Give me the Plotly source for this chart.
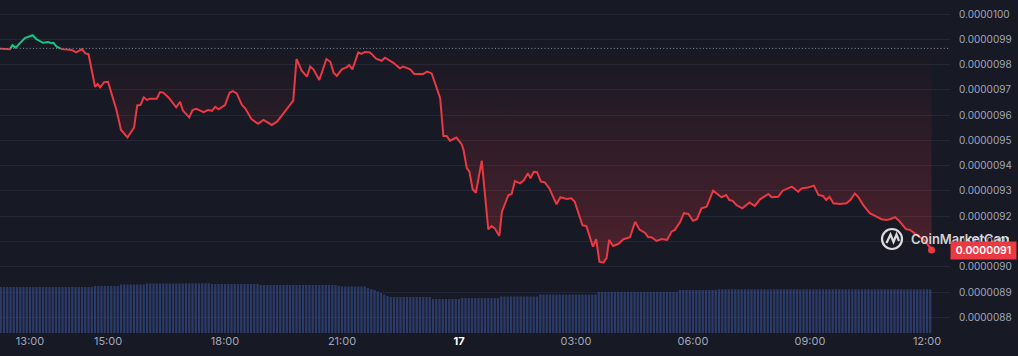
import numpy as np
import pandas as pd
import plotly.graph_objects as go

# ---------------- data ----------------
DAY0 = pd.Timestamp("2024-01-16 00:00")
# price sample times, minutes after 16th 00:00 (values > 1440 are on the 17th)
price_time_min = [734,749,753,758,765,772,784,790,800,808,
                  813,816,821,829,844,851,860,865,870,880,
                  884,888,894,900,906,913,920,930,940,945,
                  950,955,960,965,975,980,985,993,1005,1011,
                  1015,1025,1030,1036,1047,1054,1060,1065,1070,1080,
                  1087,1092,1098,1106,1111,1121,1131,1139,1152,1160,
                  1172,1185,1190,1198,1206,1211,1216,1225,1236,1242,
                  1247,1252,1260,1267,1271,1276,1285,1290,1295,1303,
                  1313,1321,1326,1339,1349,1354,1365,1371,1385,1391,
                  1398,1406,1411,1416,1421,1426,1436,1444,1447,1452,
                  1456,1461,1466,1475,1485,1490,1495,1502,1506,1516,
                  1521,1526,1534,1540,1546,1550,1555,1560,1566,1572,
                  1579,1590,1596,1606,1613,1618,1630,1636,1646,1651,
                  1656,1662,1667,1671,1677,1685,1693,1703,1711,1718,
                  1726,1731,1736,1744,1752,1760,1767,1772,1780,1786,
                  1793,1800,1806,1813,1821,1831,1837,1844,1851,1856,
                  1861,1867,1876,1887,1895,1903,1916,1921,1931,1938,
                  1952,1962,1967,1977,1986,1993,2000,2005,2010,2016,
                  2026,2036,2042,2049,2054,2062,2072,2083,2090,2098,
                  2103,2111,2117,2128,2134,2142,2149,2157,2167]
# price in units of 1e-7
price_e7 = [98.63,98.61,98.77,98.67,98.88,99.05,99.16,99.00,98.86,98.89,
            98.84,98.86,98.71,98.61,98.58,98.48,98.61,98.44,98.41,97.12,
            97.23,97.10,97.30,97.32,96.80,96.20,95.41,95.12,95.50,96.39,
            96.40,96.70,96.60,96.65,96.65,96.91,96.89,96.70,96.31,96.53,
            96.19,95.91,96.20,96.25,96.12,96.20,96.17,96.33,96.23,96.40,
            96.89,96.95,96.86,96.40,96.27,95.83,95.66,95.81,95.61,95.74,
            96.14,96.57,98.22,97.76,97.52,97.92,97.81,97.39,98.22,98.11,
            97.68,97.55,97.82,97.89,97.98,97.81,98.48,98.42,98.50,98.48,
            98.22,98.15,98.27,98.07,97.85,97.92,97.81,97.63,97.63,97.72,
            97.65,96.99,96.67,95.17,95.17,94.99,95.11,94.85,94.62,93.90,
            93.76,93.07,92.93,94.20,91.48,91.61,91.52,91.22,92.18,92.84,
            92.88,93.39,93.30,93.43,93.70,93.50,93.76,93.74,93.37,93.34,
            93.10,92.47,92.75,92.68,92.71,92.57,91.64,91.61,90.79,91.09,
            90.20,90.16,90.34,91.06,90.82,90.90,91.09,91.17,91.78,91.46,
            91.35,91.17,91.17,91.02,91.10,91.06,91.39,91.46,91.76,92.12,
            92.09,91.82,91.88,92.31,92.38,93.01,92.88,92.75,92.84,92.64,
            92.61,92.44,92.31,92.54,92.41,92.67,92.88,92.75,92.77,93.01,
            93.17,92.97,93.10,93.14,93.21,92.84,92.80,92.64,92.77,92.51,
            92.48,92.51,92.64,92.90,92.77,92.44,92.12,91.96,91.88,91.85,
            91.88,91.96,91.82,91.48,91.46,91.30,91.19,91.03,90.66]
baseline_e7 = 98.64   # opening price (dotted line)

# 5-minute volume bars, 12:15 (16th) .. 12:05 (17th); arbitrary units
volume = [
    46,46,46,46,46,46,46,46,46,                              # 12:15-12:55
    46,46,46,46,46,46,46,46,46,46,46,46,                     # 13h
    46,46,46,46,46,46,46,46,47,47,47,47,                     # 14h
    47,47,47,47,48.5,48.5,48.5,48.5,48.5,48.5,48.5,48.5,     # 15h
    49.5,49.5,49.5,49.5,49.5,49.5,49.5,49.5,49.5,49.5,49.5,49.5,  # 16h
    49.7,49.7,49.7,49.7,49.7,49.7,49.7,49.7,49,49,49,49,     # 17h
    49,49,49,49,49,49,49,49,49,49,49,48,                     # 18h
    48,48,48,48,48,48,48,48,48,48,48,48,                     # 19h
    48,48,48,48,48,48,48,48,48,48,48,47,                     # 20h
    46.5,46.5,46.5,46.5,46.5,46.5,46.5,46.5,45,44,43,41.5,   # 21h
    40,38.5,37,36,36,36,36,36,36,36,36,36,                   # 22h
    36,36,36,36,34,34,34,34,34,34,34,34,                     # 23h
    34,35,35,35,35,35,35,35,35,35,35,35,                     # 00h
    35,36.5,36.5,36.5,36.5,36.5,36.5,36.5,36.5,36.5,36.5,36.5,  # 01h
    36.5,38.5,38.5,38.5,38.5,38.5,38.5,38.5,38.5,38.5,38.5,38.5,  # 02h
    38.5,38.5,38.5,38.5,38.5,38.5,38.5,41,41,41,41,41,       # 03h
    41,41,41,41,41,41,41,41,41,41,41,41,                     # 04h
    41,41,41,41,41,41,41,41,43,43,43,43,                     # 05h
    43,43,43,43,43,43,43,43,43.7,43.7,43.7,43.7,             # 06h
    43.7,43.7,43.7,43.7,43.7,43.7,43.7,43.7,43.7,43.7,43.7,43.7,  # 07h
    43.7,43.7,43.7,43.7,43.7,43.7,43.7,43.7,43.7,43.7,43.7,43.7,  # 08h
    43.7,43.7,43.7,43.7,43.7,43.7,43.7,43.7,43.7,43.7,43.7,43.7,  # 09h
    43.7,43.7,43.7,43.7,43.7,43.7,43.7,43.7,43.7,43.7,43.7,43.7,  # 10h
    43.7,43.7,43.7,43.7,43.7,43.7,43.7,43.7,43.7,43.7,43.7,43.7,  # 11h
    43.7,43.7,                                               # 12:00-12:05
]

x_tick_times = ["2024-01-16 13:00", "2024-01-16 15:00", "2024-01-16 18:00",
                "2024-01-16 21:00", "2024-01-17 00:00", "2024-01-17 03:00",
                "2024-01-17 06:00", "2024-01-17 09:00", "2024-01-17 12:00"]
x_tick_text = ["13:00", "15:00", "18:00", "21:00",
               '<span style="color:#ffffff"><b>17</b></span>',
               "03:00", "06:00", "09:00", "12:00"]

assert len(price_time_min) == len(price_e7), (len(price_time_min), len(price_e7))

# ---------------- colours ----------------
BG = "#171924"
GRID = "#232634"
RED = "#ea3943"
GREEN = "#16c784"
LABEL = "#a1a7bb"

# ---------------- prepare ----------------
SCALE = 1e-7
base = baseline_e7 * SCALE
tm = list(map(float, price_time_min))
pv = [p * SCALE for p in price_e7]

# insert baseline crossings so the line can switch colour exactly there
aug_t, aug_v = [tm[0]], [pv[0]]
for i in range(1, len(tm)):
    a, b = pv[i - 1] - base, pv[i] - base
    if a * b < 0:
        f = a / (a - b)
        aug_t.append(tm[i - 1] + f * (tm[i] - tm[i - 1]))
        aug_v.append(base)
    aug_t.append(tm[i])
    aug_v.append(pv[i])

to_dt = lambda mins: [DAY0 + pd.Timedelta(minutes=m) for m in mins]
aug_x = to_dt(aug_t)
green_y = [v if v >= base else None for v in aug_v]
red_y = [v if v <= base else None for v in aug_v]
fill_y = [min(v, base) for v in aug_v]

vol_x = pd.date_range("2024-01-16 12:15", periods=len(volume), freq="5min")

fig = go.Figure()

fig.add_trace(go.Bar(x=vol_x, y=volume, yaxis="y2",
                     marker=dict(color="rgba(61,85,158,0.55)", line_width=0),
                     hoverinfo="skip", showlegend=False))

fig.add_trace(go.Scatter(x=aug_x, y=[base] * len(aug_x), mode="lines",
                         line=dict(width=0), hoverinfo="skip", showlegend=False))
fig.add_trace(go.Scatter(x=aug_x, y=fill_y, mode="lines", line=dict(width=0),
                         fill="tonexty",
                         fillgradient=dict(type="vertical",
                                           colorscale=[[0, "rgba(234,57,67,0.26)"],
                                                       [1, "rgba(234,57,67,0.0)"]],
                                           start=90.2 * SCALE, stop=base),
                         hoverinfo="skip", showlegend=False))

fig.add_trace(go.Scatter(x=aug_x, y=red_y, mode="lines",
                         line=dict(color=RED, width=2), connectgaps=False,
                         hoverinfo="skip", showlegend=False))
fig.add_trace(go.Scatter(x=aug_x, y=green_y, mode="lines",
                         line=dict(color=GREEN, width=2), connectgaps=False,
                         hoverinfo="skip", showlegend=False))
fig.add_trace(go.Scatter(x=[aug_x[-1]], y=[aug_v[-1]], mode="markers",
                         marker=dict(color=RED, size=7), hoverinfo="skip",
                         showlegend=False))

# dotted baseline
fig.add_shape(type="line", xref="paper", x0=0, x1=1, yref="y", y0=base, y1=base,
              line=dict(color="#8e93a0", width=1, dash="1px,2.3px"), layer="above")

# watermark (drawn before the price tag so the tag sits on top)
PW, PH = 950.0, 333.0
fig.add_shape(type="circle", xref="paper", yref="paper",
              x0=882 / PW, x1=902 / PW, y0=1 - 249 / PH, y1=1 - 229 / PH,
              line=dict(color="rgba(255,255,255,0.85)", width=2.2))
wave = [(886.5, 243), (890.5, 234.5), (893.5, 242), (896.5, 234.5), (899, 241)]
path = "M " + " L ".join(f"{x / PW},{1 - y / PH}" for x, y in wave)
fig.add_shape(type="path", xref="paper", yref="paper", path=path,
              line=dict(color="rgba(255,255,255,0.85)", width=2.2))
fig.add_annotation(xref="paper", yref="paper", x=909 / PW, y=1 - 239 / PH,
                   xanchor="left", yanchor="middle", text="CoinMarketCap",
                   showarrow=False,
                   font=dict(family="Inter", size=13, color="rgba(255,255,255,0.82)",
                             weight=600))

# last price tag
fig.add_annotation(xref="paper", x=1, xanchor="left", yref="y", y=aug_v[-1],
                   text=f"{aug_v[-1]:.7f}", showarrow=False,
                   bgcolor=RED, width=65, height=17, borderpad=0, align="center",
                   font=dict(family="Inter", size=10.5, color="#ffffff", weight=600))

fig.update_layout(
    width=1018, height=356,
    margin=dict(l=0, r=68, t=0, b=23),
    paper_bgcolor=BG, plot_bgcolor=BG,
    bargap=0.3,
    showlegend=False,
    xaxis=dict(range=["2024-01-16 12:13:48", "2024-01-17 12:35:24"],
               showgrid=False, zeroline=False, showline=False, ticks="",
               tickmode="array", tickvals=x_tick_times, ticktext=x_tick_text,
               tickfont=dict(family="Inter", size=11, color=LABEL)),
    yaxis=dict(side="right", range=[87.38 * SCALE, 100.554 * SCALE],
               tickmode="linear", tick0=88 * SCALE, dtick=1 * SCALE,
               tickformat=".7f", showgrid=True, gridcolor=GRID, gridwidth=1,
               zeroline=False, showline=False, ticks="", ticklabelstandoff=8,
               tickfont=dict(family="Inter", size=10, color=LABEL)),
    yaxis2=dict(overlaying="y", range=[0, 333], visible=False, fixedrange=True),
    font=dict(family="Inter"),
)

fig.write_html("out.html", config={"displayModeBar": False},
               post_script="document.body.style.margin='0';")
